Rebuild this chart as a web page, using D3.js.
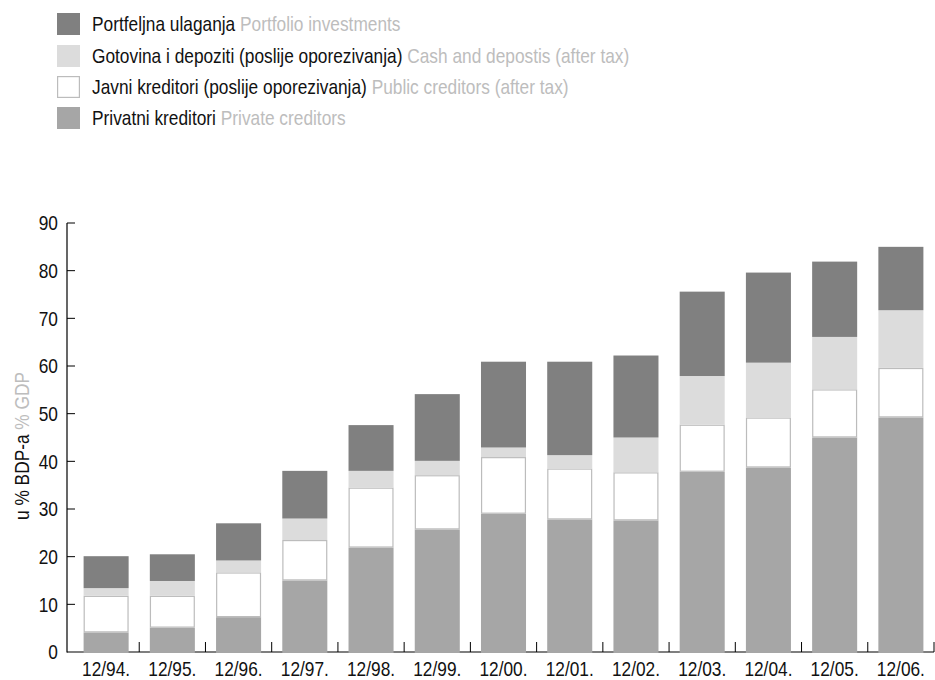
<!DOCTYPE html>
<html>
<head>
<meta charset="utf-8">
<script src="https://cdn.jsdelivr.net/npm/d3@7"></script>
<style>
  html, body { margin: 0; padding: 0; background: #fff; }
  svg text { font-family: "Liberation Sans", Arial, sans-serif; }
</style>
</head>
<body>
<svg id="chart" width="935" height="680"></svg>
<script>
// Periods (end of year)
const categories = ["12/94.", "12/95.", "12/96.", "12/97.", "12/98.", "12/99.", "12/00.", "12/01.", "12/02.", "12/03.", "12/04.", "12/05.", "12/06."];

// Components, % of GDP (stacked bottom to top)
const privateCreditors = [4.1, 5.1, 7.3, 15.0, 21.9, 25.7, 29.0, 27.8, 27.6, 37.8, 38.7, 45.0, 49.2];
const publicCreditors  = [7.7, 6.7, 9.4, 8.5, 12.6, 11.4, 11.9, 10.7, 10.1, 9.9, 10.5, 10.1, 10.4];
const cashDeposits     = [1.6, 3.1, 2.5, 4.5, 3.5, 3.0, 2.0, 2.8, 7.3, 10.2, 11.5, 11.0, 12.1];
const portfolio        = [6.7, 5.6, 7.8, 10.0, 9.6, 14.0, 18.0, 19.6, 17.2, 17.7, 18.9, 15.8, 13.3];

const yTicks = [0, 10, 20, 30, 40, 50, 60, 70, 80, 90];

// Series definitions, bottom of the stack first
const series = [
  { key: "private", values: privateCreditors, fill: "#a6a6a6", stroke: "none",
    hr: "Privatni kreditori", en: "Private creditors" },
  { key: "public", values: publicCreditors, fill: "#ffffff", stroke: "#bcbcbc",
    hr: "Javni kreditori (poslije oporezivanja)", en: "Public creditors (after tax)" },
  { key: "cash", values: cashDeposits, fill: "#dcdcdc", stroke: "none",
    hr: "Gotovina i depoziti (poslije oporezivanja)", en: "Cash and depostis (after tax)" },
  { key: "portfolio", values: portfolio, fill: "#808080", stroke: "none",
    hr: "Portfeljna ulaganja", en: "Portfolio investments" }
];

const rows = categories.map((c, i) => {
  const r = { cat: c };
  series.forEach(s => r[s.key] = s.values[i]);
  return r;
});
const stacked = d3.stack().keys(series.map(s => s.key))(rows);

const svg = d3.select("#chart");
const SX = 0.865;             // horizontal squeeze for a condensed look
const FS = 20;                // base font size
const ink = "#111", soft = "#bdbdbd";

// place a text element at (px,py), condensed horizontally (optionally rotated)
function place(sel, px, py, rot) {
  sel.attr("transform", (d, i) => {
    const X = typeof px === "function" ? px(d, i) : px;
    const Y = typeof py === "function" ? py(d, i) : py;
    return `translate(${X},${Y})` + (rot ? ` rotate(${rot})` : "") + ` scale(${SX},1)`;
  });
  return sel;
}

const x = d3.scaleBand().domain(categories).range([73, 934]).padding(0);
const y = d3.scaleLinear().domain([0, 90]).range([652, 223]);
const barW = x.bandwidth() * 0.68;
const barOff = (x.bandwidth() - barW) / 2;

// Axis lines
svg.append("line").attr("x1", 67).attr("x2", 934).attr("y1", y(0)).attr("y2", y(0))
  .attr("stroke", "#000").attr("stroke-width", 1.2);
svg.append("line").attr("x1", 67).attr("x2", 67).attr("y1", y(0) + 0.6).attr("y2", y(90))
  .attr("stroke", "#000").attr("stroke-width", 1.2);

// Y ticks and labels
const yAxis = svg.append("g");
yAxis.selectAll("line").data(yTicks.filter(t => t > 0)).join("line")
  .attr("x1", 67).attr("x2", 75).attr("y1", d => y(d)).attr("y2", d => y(d))
  .attr("stroke", "#000").attr("stroke-width", 1);
place(yAxis.selectAll("text").data(yTicks).join("text"), 58, d => y(d))
  .attr("dy", "0.36em").attr("text-anchor", "end")
  .attr("font-size", FS).attr("fill", ink)
  .text(d => d);

// X ticks at band boundaries
const bounds = categories.map(c => x(c) + x.bandwidth());
svg.append("g").selectAll("line").data(bounds).join("line")
  .attr("x1", d => d).attr("x2", d => d).attr("y1", y(0)).attr("y2", y(0) - 10)
  .attr("stroke", "#000").attr("stroke-width", 1);

// Stacked bars
const layers = svg.append("g").selectAll("g").data(stacked).join("g");
layers.each(function(layer, li) {
  const s = series[li];
  const inset = s.stroke !== "none" ? 0.6 : 0;
  d3.select(this).selectAll("rect").data(layer).join("rect")
    .attr("x", d => x(d.data.cat) + barOff + inset)
    .attr("width", barW - 2 * inset)
    .attr("y", d => y(d[1]) + inset)
    .attr("height", d => y(d[0]) - y(d[1]) + (li === 0 ? 1 : 0) - 2 * inset)
    .attr("fill", s.fill)
    .attr("stroke", s.stroke)
    .attr("stroke-width", 1.2);
});

// X labels
place(svg.append("g").selectAll("text").data(categories).join("text"),
      d => x(d) + x.bandwidth() / 2, 676)
  .attr("text-anchor", "middle").attr("font-size", FS).attr("fill", ink)
  .text(d => d);

// Y axis title
const yt = place(svg.append("text"), 29, 446, -90)
  .attr("text-anchor", "middle").attr("font-size", FS);
yt.append("tspan").attr("fill", ink).text("u % BDP-a ");
yt.append("tspan").attr("fill", soft).text("% GDP");

// Legend, top item first
const legendItems = series.slice().reverse();
const legendY = [24, 56, 87, 118];
const lg = svg.append("g").selectAll("g").data(legendItems).join("g")
  .attr("transform", (d, i) => `translate(57,${legendY[i]})`);
lg.append("rect")
  .attr("x", d => d.stroke !== "none" ? 0.6 : 0)
  .attr("y", d => -11 + (d.stroke !== "none" ? 0.6 : 0))
  .attr("width", d => 23 - (d.stroke !== "none" ? 1.2 : 0))
  .attr("height", d => 22 - (d.stroke !== "none" ? 1.2 : 0))
  .attr("fill", d => d.fill).attr("stroke", d => d.stroke).attr("stroke-width", 1.2);
const lt = place(lg.append("text"), 35, 0)
  .attr("dy", "0.36em").attr("font-size", FS);
lt.append("tspan").attr("fill", ink).text(d => d.hr + " ");
lt.append("tspan").attr("fill", soft).text(d => d.en);
</script>
</body>
</html>
